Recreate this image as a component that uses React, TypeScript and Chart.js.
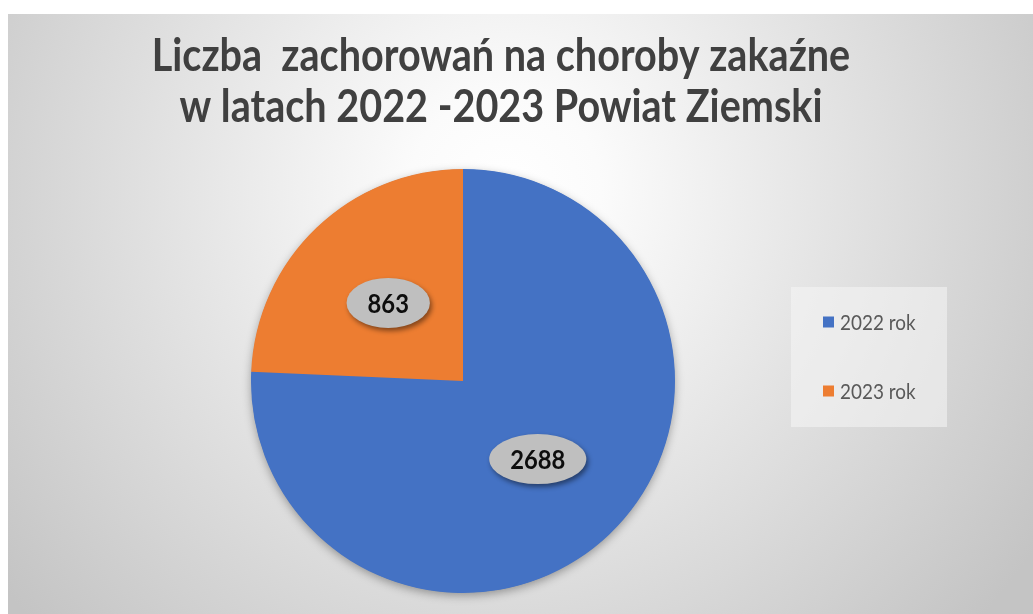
import React, { useEffect, useRef } from "react";
import { Chart, registerables } from "chart.js";

Chart.register(...registerables);

const categories = ["2022 rok", "2023 rok"];
const values = [2688, 863];
const colors = ["#4472C4", "#ED7D31"];
const titleLines = ["Liczba  zachorowań na choroby zakaźne", "w latach 2022 -2023 Powiat Ziemski"];

const W = 1033;
const H = 614;

const backgroundPlugin = {
  id: "bgPlugin",
  beforeDraw(chart: any) {
    const ctx = chart.ctx;
    ctx.save();
    ctx.fillStyle = "#ffffff";
    ctx.fillRect(0, 0, W, H);
    const g = ctx.createRadialGradient(505, 190, 0, 505, 190, 640);
    g.addColorStop(0, "#ffffff");
    g.addColorStop(0.15, "#fbfbfb");
    g.addColorStop(1, "#c4c4c4");
    ctx.fillStyle = g;
    ctx.fillRect(8, 14, W - 8, H - 14);
    ctx.restore();
  },
};

function condensedText(ctx: any, text: string, x: number, y: number, sx: number) {
  ctx.save();
  ctx.translate(x, y);
  ctx.scale(sx, 1);
  ctx.fillText(text, 0, 0);
  ctx.restore();
}

const titlePlugin = {
  id: "titlePlugin",
  beforeDatasetsDraw(chart: any) {
    const ctx = chart.ctx;
    ctx.save();
    ctx.fillStyle = "#404040";
    ctx.font = "bold 46px Lato";
    ctx.textAlign = "center";
    ctx.textBaseline = "middle";
    condensedText(ctx, titleLines[0], 501, 56, 0.86);
    condensedText(ctx, titleLines[1], 501, 107, 0.86);
    ctx.restore();
  },
};

const shadowPlugin = {
  id: "shadowPlugin",
  beforeDatasetsDraw(chart: any) {
    const meta = chart.getDatasetMeta(0);
    const arc = meta.data[0];
    if (!arc) return;
    const ctx = chart.ctx;
    ctx.save();
    ctx.shadowColor = "rgba(0,0,0,0.35)";
    ctx.shadowBlur = 10;
    ctx.shadowOffsetX = 0;
    ctx.shadowOffsetY = 3;
    ctx.fillStyle = colors[0];
    ctx.beginPath();
    ctx.arc(arc.x, arc.y, arc.outerRadius - 0.5, 0, Math.PI * 2);
    ctx.fill();
    ctx.restore();
  },
};

const labelPlugin = {
  id: "labelPlugin",
  afterDatasetsDraw(chart: any) {
    const meta = chart.getDatasetMeta(0);
    const ctx = chart.ctx;
    meta.data.forEach((arc: any, i: number) => {
      const mid = (arc.startAngle + arc.endAngle) / 2;
      const d = arc.outerRadius * 0.51;
      const x = arc.x + Math.cos(mid) * d;
      const y = arc.y + Math.sin(mid) * d;
      const text = String(values[i]);
      ctx.save();
      ctx.font = "bold 27px Lato";
      const tw = ctx.measureText(text).width * 0.88;
      const rx = (tw + 42) / 2;
      const ry = 25;
      ctx.shadowColor = "rgba(0,0,0,0.45)";
      ctx.shadowBlur = 5;
      ctx.shadowOffsetX = 2;
      ctx.shadowOffsetY = 3;
      ctx.fillStyle = "#bfbfbf";
      ctx.beginPath();
      ctx.ellipse(x, y, rx, ry, 0, 0, Math.PI * 2);
      ctx.fill();
      ctx.restore();
      ctx.save();
      ctx.font = "bold 27px Lato";
      ctx.fillStyle = "#0d0d0d";
      ctx.textAlign = "center";
      ctx.textBaseline = "middle";
      condensedText(ctx, text, x, y + 1, 0.88);
      ctx.restore();
    });
  },
};

const legendPlugin = {
  id: "legendPlugin",
  afterDraw(chart: any) {
    const ctx = chart.ctx;
    ctx.save();
    ctx.fillStyle = "rgba(245,245,245,0.55)";
    ctx.fillRect(791, 287, 156, 140);
    const rows = [322, 391];
    categories.forEach((c, i) => {
      ctx.fillStyle = colors[i];
      ctx.fillRect(823, rows[i] - 5.5, 11, 11);
      ctx.fillStyle = "#595959";
      ctx.font = "21px Lato";
      ctx.textAlign = "left";
      ctx.textBaseline = "middle";
      condensedText(ctx, c, 840, rows[i] + 1, 0.9);
    });
    ctx.restore();
  },
};

export default function App() {
  const ref = useRef<HTMLCanvasElement>(null);
  useEffect(() => {
    if (!ref.current) return;
    const chart = new Chart(ref.current, {
      type: "pie",
      data: {
        labels: categories,
        datasets: [
          {
            data: values,
            backgroundColor: colors,
            borderWidth: 0,
            hoverOffset: 0,
          },
        ],
      },
      options: {
        responsive: false,
        animation: false,
        events: [],
        layout: { padding: { top: 169, bottom: 21, left: 251, right: 358 } },
        plugins: {
          legend: { display: false },
          title: { display: false },
          tooltip: { enabled: false },
        },
      },
      plugins: [backgroundPlugin, titlePlugin, shadowPlugin, labelPlugin, legendPlugin],
    });
    return () => chart.destroy();
  }, []);
  return (
    <div style={{ position: "fixed", left: 0, top: 0, width: W, height: H }}>
      <canvas ref={ref} width={W} height={H} style={{ display: "block" }} />
    </div>
  );
}
